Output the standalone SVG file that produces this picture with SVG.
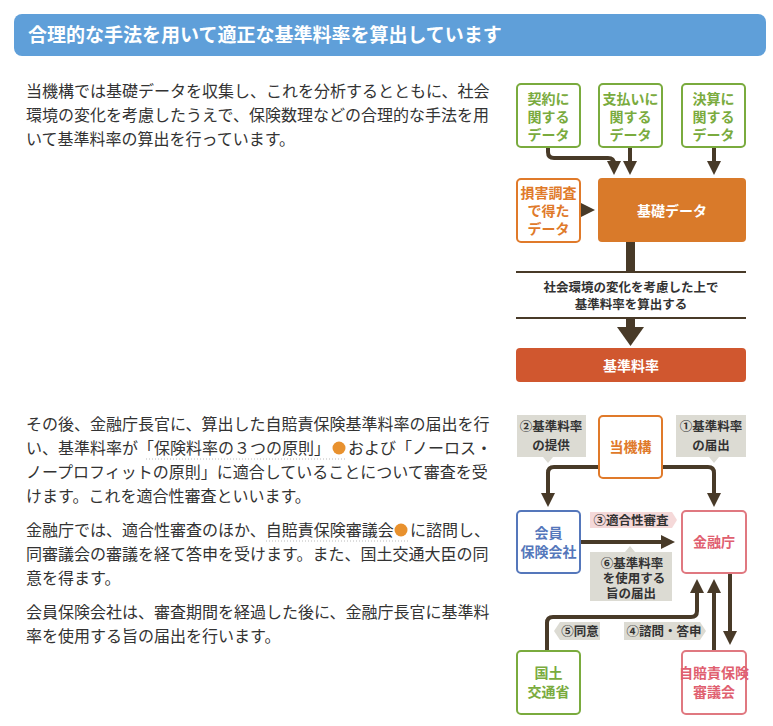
<svg xmlns="http://www.w3.org/2000/svg" width="773" height="726" viewBox="0 0 773 726">
<defs>
<style>
text{font-family:"Noto Sans CJK JP","Noto Sans",sans-serif}
.body{font-size:16px;fill:#333}
.bt{font-size:14px;font-weight:bold;text-anchor:middle}
.g{fill:#fff;stroke:#7aab3e;stroke-width:2}
.o{fill:#fff;stroke:#e07a2a;stroke-width:2}
.b{fill:#fff;stroke:#5577bb;stroke-width:2}
.p{fill:#fff;stroke:#e07880;stroke-width:2}
.c{fill:none;stroke:#483a28;stroke-width:4}
.lab{fill:#dcdbd3}
.lt{font-size:12.5px;font-weight:bold;fill:#333;text-anchor:middle}
</style>
<marker id="ah" viewBox="0 0 10 10" refX="5" refY="5" markerWidth="3.5" markerHeight="3.5" orient="auto"><path d="M0,0L10,5L0,10z" fill="#483a28"/></marker>
</defs>
<rect x="14" y="14" width="752" height="42" rx="8" fill="#5f9fd9"/>
<text x="28" y="42" font-size="19" font-weight="bold" fill="#fff">合理的な手法を用いて適正な基準料率を算出しています</text>
<g class="body">
<text x="26" y="97">当機構では基礎データを収集し、これを分析するとともに、社会</text>
<text x="26" y="121">環境の変化を考慮したうえで、保険数理などの合理的な手法を用</text>
<text x="26" y="145">いて基準料率の算出を行っています。</text>
<text x="26" y="430">その後、金融庁長官に、算出した自賠責保険基準料率の届出を行</text>
<text x="26" y="454">い、基準料率が「保険料率の３つの原則」</text>
<text x="348" y="454">および「ノーロス・</text>
<text x="26" y="478">ノープロフィットの原則」に適合していることについて審査を受</text>
<text x="26" y="502">けます。これを適合性審査といいます。</text>
<text x="26" y="536">金融庁では、適合性審査のほか、自賠責保険審議会</text>
<text x="410" y="536">に諮問し、</text>
<text x="26" y="560">同審議会の審議を経て答申を受けます。また、国土交通大臣の同</text>
<text x="26" y="584">意を得ます。</text>
<text x="26" y="618">会員保険会社は、審査期間を経過した後に、金融庁長官に基準料</text>
<text x="26" y="642">率を使用する旨の届出を行います。</text>
</g>
<line x1="146" y1="459" x2="346" y2="459" stroke="#bbb" stroke-dasharray="1,2"/>
<line x1="266" y1="541" x2="408" y2="541" stroke="#bbb" stroke-dasharray="1,2"/>
<circle cx="339" cy="448" r="6.5" fill="#e8912e"/>
<circle cx="401" cy="530" r="6.5" fill="#e8912e"/>

<g id="connectors">
<path class="c" d="M548,148V152Q548,158,554,158H608Q614,158,614,164V168" marker-end="url(#ah)"/>
<path class="c" d="M630,148V168" marker-end="url(#ah)"/>
<path class="c" d="M714,148V168" marker-end="url(#ah)"/>
<path class="c" d="M582,210H588" marker-end="url(#ah)"/>
<rect x="626" y="242" width="9" height="30" fill="#483a28"/>
<line x1="516" y1="272" x2="746" y2="272" stroke="#483a28" stroke-width="2"/>
<line x1="516" y1="318" x2="746" y2="318" stroke="#483a28" stroke-width="2"/>
<rect x="626" y="318" width="9" height="10" fill="#483a28"/>
<path d="M617,327H644L630.5,346z" fill="#483a28"/>
<path class="c" d="M598,467H554Q548,467,548,473V500" marker-end="url(#ah)"/>
<path class="c" d="M662,467H708Q714,467,714,473V500" marker-end="url(#ah)"/>
<path class="c" d="M580,542H668" marker-end="url(#ah)"/>
<path class="c" d="M547,651V623Q547,617,553,617H691Q697,617,697,611V586" marker-end="url(#ah)"/>
<path class="c" d="M714,651V586" marker-end="url(#ah)"/>
<path class="c" d="M730,573V638" marker-end="url(#ah)"/>
</g>

<g id="n1"><rect class="g" x="517" y="84" width="63" height="63" rx="4"/><text class="bt" fill="#7aab3e"><tspan x="548.5" y="104">契約に</tspan><tspan x="548.5" y="122">関する</tspan><tspan x="548.5" y="140">データ</tspan></text></g>
<g id="n2"><rect class="g" x="599" y="84" width="63" height="63" rx="4"/><text class="bt" fill="#7aab3e"><tspan x="630.5" y="104">支払いに</tspan><tspan x="630.5" y="122">関する</tspan><tspan x="630.5" y="140">データ</tspan></text></g>
<g id="n3"><rect class="g" x="682" y="84" width="63" height="63" rx="4"/><text class="bt" fill="#7aab3e"><tspan x="713.5" y="104">決算に</tspan><tspan x="713.5" y="122">関する</tspan><tspan x="713.5" y="140">データ</tspan></text></g>
<g id="n4"><rect class="o" x="517" y="179" width="63" height="63" rx="4"/><text class="bt" fill="#e07a2a"><tspan x="548.5" y="198">損害調査</tspan><tspan x="548.5" y="216">で得た</tspan><tspan x="548.5" y="234">データ</tspan></text></g>
<g id="n5"><rect x="598" y="178" width="148" height="64" rx="4" fill="#d97a2a"/><text class="bt" x="672" y="216" font-size="17" fill="#fff">基礎データ</text></g>
<g id="n6"><text class="lt" x="631" y="292">社会環境の変化を考慮した上で</text><text class="lt" x="631" y="309">基準料率を算出する</text></g>
<g id="n7"><rect x="516" y="348" width="230" height="34" rx="4" fill="#d0572f"/><text class="bt" x="631" y="371" font-size="16" fill="#fff">基準料率</text></g>

<g id="l2"><path class="lab" d="M517,415H586V457H553L548,463L543,457H517z"/><text class="lt"><tspan x="551" y="431">②基準料率</tspan><tspan x="551" y="450">の提供</tspan></text></g>
<g id="l1"><path class="lab" d="M676,415H746V457H719L714,463L709,457H676z"/><text class="lt"><tspan x="711" y="431">①基準料率</tspan><tspan x="711" y="450">の届出</tspan></text></g>
<g id="m1"><rect class="o" x="599" y="416" width="63" height="62" rx="4"/><text class="bt" x="630.5" y="452" fill="#e07a2a">当機構</text></g>
<g id="m2"><rect class="b" x="517" y="511" width="63" height="62" rx="4"/><text class="bt" fill="#5577bb"><tspan x="548.5" y="538">会員</tspan><tspan x="548.5" y="557">保険会社</tspan></text></g>
<g id="m3"><rect class="p" x="682" y="511" width="64" height="62" rx="4"/><text class="bt" x="714" y="547" fill="#e06070">金融庁</text></g>
<g id="l3"><path d="M590,512H672L677,520L672,528H590z" fill="#f5d9d9"/><text class="lt" x="631" y="525">③適合性審査</text></g>
<g id="l6"><path class="lab" d="M590,552H625L630,546L635,552H672V601H590z"/><text class="lt" x="632" y="568">⑥基準料率</text><text class="lt" x="634" y="583">を使用する</text><text class="lt" x="631" y="598">旨の届出</text></g>
<g id="l5"><path class="lab" d="M560,622H600V640H560L554,631z"/><text class="lt" x="580" y="636">⑤同意</text></g>
<g id="l4"><path class="lab" d="M624,622H700L706,631L700,640H624z"/><text class="lt" x="664" y="636">④諮問・答申</text></g>
<g id="m4"><rect class="g" x="517" y="651" width="63" height="63" rx="4"/><text class="bt" fill="#7aab3e"><tspan x="548.5" y="678">国土</tspan><tspan x="548.5" y="697">交通省</tspan></text></g>
<g id="m5"><rect class="p" x="682" y="651" width="64" height="63" rx="4"/><text class="bt" fill="#e06070" font-weight="normal" font-size="13"><tspan x="714" y="678">自賠責保険</tspan><tspan x="714" y="697">審議会</tspan></text></g>
</svg>
